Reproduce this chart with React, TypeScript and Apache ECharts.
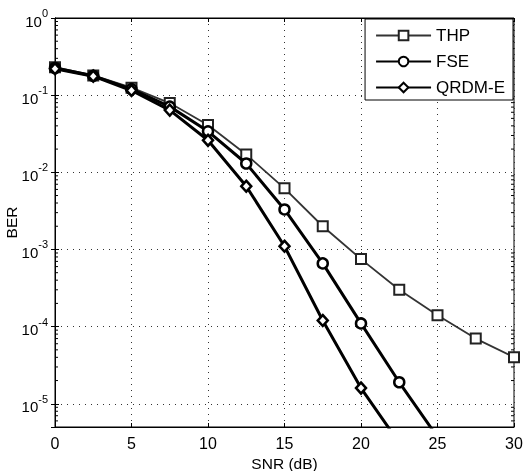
import React, { useEffect, useRef } from "react";
import * as echarts from "echarts";

const snr = [0, 2.5, 5, 7.5, 10, 12.5, 15, 17.5, 20, 22.5, 25, 27.5, 30];
const thp = [0.23, 0.18, 0.125, 0.079, 0.041, 0.017, 0.0062, 0.002, 0.00075, 0.0003, 0.00014, 0.00007, 0.00004];
const fse = [0.225, 0.178, 0.12, 0.071, 0.034, 0.013, 0.0033, 0.00066, 0.00011, 0.000019, 0.0000037];
const qrdm = [0.22, 0.176, 0.115, 0.064, 0.026, 0.0066, 0.0011, 0.00012, 0.000016, 0.0000031];
const yMin = 5e-6;
const yMax = 1;
const minorMantissas = [2, 3, 4, 5, 6, 7, 8, 9];
const minorDecades = [-6, -5, -4, -3, -2, -1];

const FONT = "Liberation Sans, Arial, sans-serif";

export default function App() {
  const ref = useRef<HTMLDivElement>(null);
  useEffect(() => {
    const chart = echarts.init(ref.current!, undefined, { renderer: "svg" });
    const pair = (ys: number[]) => ys.map((y, i) => [snr[i], y]);
    const minorVals: number[] = [];
    minorDecades.forEach((d) =>
      minorMantissas.forEach((m) => {
        const v = m * Math.pow(10, d);
        if (v > yMin && v < yMax) minorVals.push(v);
      })
    );
    const yLabel = (v: number) => {
      const l = Math.log10(v);
      const e = Math.round(l);
      if (Math.abs(l - e) > 1e-6) return "";
      return `{b|10}{s|${e}}`;
    };
    chart.setOption({
      animation: false,
      textStyle: { fontFamily: FONT },
      grid: {
        left: 55,
        right: 10,
        top: 18,
        bottom: 44,
        show: true,
        borderColor: "#000",
        borderWidth: 1,
        containLabel: false,
        outerBoundsMode: "none",
      },
      legend: {
        right: 11,
        top: 19,
        orient: "vertical",
        backgroundColor: "#fff",
        borderColor: "#000",
        borderWidth: 1,
        padding: [8, 8, 4, 10],
        itemGap: 9,
        itemWidth: 55,
        itemHeight: 12,
        textStyle: { fontSize: 17, color: "#000", fontFamily: FONT },
        data: ["THP", "FSE", "QRDM-E"],
      },
      xAxis: [
        {
          type: "value",
          min: 0,
          max: 30,
          interval: 5,
          name: "SNR (dB)",
          nameLocation: "middle",
          nameGap: 28,
          nameMoveOverlap: false,
          nameTextStyle: { fontSize: 15.5, color: "#000", fontFamily: FONT },
          axisLine: { lineStyle: { color: "#000" } },
          axisTick: { inside: true, length: 4, lineStyle: { color: "#000" } },
          axisLabel: { fontSize: 16, color: "#000", margin: 8, fontFamily: FONT },
          splitLine: { show: true, lineStyle: { color: "#333", type: [1, 5], width: 1 } },
        },
        {
          type: "value",
          position: "top",
          min: 0,
          max: 30,
          interval: 5,
          axisLine: { lineStyle: { color: "#000" } },
          axisTick: { inside: true, length: 4, lineStyle: { color: "#000" } },
          axisLabel: { show: false },
          splitLine: { show: false },
        },
      ],
      yAxis: [
        {
          type: "log",
          logBase: 10,
          min: yMin,
          max: yMax,
          name: "BER",
          nameLocation: "middle",
          nameGap: 36,
          nameRotate: 90,
          nameMoveOverlap: false,
          nameTextStyle: { fontSize: 15.5, color: "#000", fontFamily: FONT },
          axisLine: { show: true, lineStyle: { color: "#000" } },
          axisTick: { inside: true, length: 4, lineStyle: { color: "#000" } },
          axisLabel: {
            formatter: yLabel,
            margin: 7,
            rich: {
              b: { fontSize: 15, color: "#000", fontFamily: FONT, verticalAlign: "bottom" },
              s: { fontSize: 11, color: "#000", fontFamily: FONT, verticalAlign: "top", padding: [0, 0, 10, 0] },
            },
          },
          splitLine: { show: true, lineStyle: { color: "#333", type: [1, 5], width: 1 } },
        },
        {
          type: "log",
          logBase: 10,
          min: yMin,
          max: yMax,
          position: "right",
          axisLine: { show: true, lineStyle: { color: "#000" } },
          axisTick: { inside: true, length: 4, lineStyle: { color: "#000" } },
          axisLabel: { show: false },
          splitLine: { show: false },
        },
      ],
      series: [
        {
          name: "minor",
          type: "custom",
          silent: true,
          data: minorVals.map((v) => [0, v]),
          renderItem: (params: any, api: any) => {
            const v = api.value(1);
            const l = api.coord([0, v]);
            const r = api.coord([30, v]);
            return {
              type: "group",
              children: [
                { type: "line", shape: { x1: l[0], y1: l[1], x2: l[0] + 3, y2: l[1] }, style: { stroke: "#000", lineWidth: 1 } },
                { type: "line", shape: { x1: r[0], y1: r[1], x2: r[0] - 3, y2: r[1] }, style: { stroke: "#000", lineWidth: 1 } },
              ],
            };
          },
        },
        {
          name: "THP",
          type: "line",
          data: pair(thp),
          symbol: "rect",
          symbolSize: 10,
          lineStyle: { color: "#333", width: 1.8 },
          itemStyle: { color: "#fff", borderColor: "#222", borderWidth: 2 },
          z: 3,
        },
        {
          name: "FSE",
          type: "line",
          data: pair(fse),
          symbol: "circle",
          symbolSize: 10,
          lineStyle: { color: "#000", width: 3 },
          itemStyle: { color: "#fff", borderColor: "#000", borderWidth: 2.5 },
          z: 4,
        },
        {
          name: "QRDM-E",
          type: "line",
          data: pair(qrdm),
          symbol: "diamond",
          symbolSize: [10, 11],
          lineStyle: { color: "#000", width: 3 },
          itemStyle: { color: "#fff", borderColor: "#000", borderWidth: 2.5 },
          z: 5,
        },
      ],
    });
    return () => chart.dispose();
  }, []);
  return <div ref={ref} style={{ position: "fixed", left: 0, top: 0, width: 524, height: 471 }} />;
}
